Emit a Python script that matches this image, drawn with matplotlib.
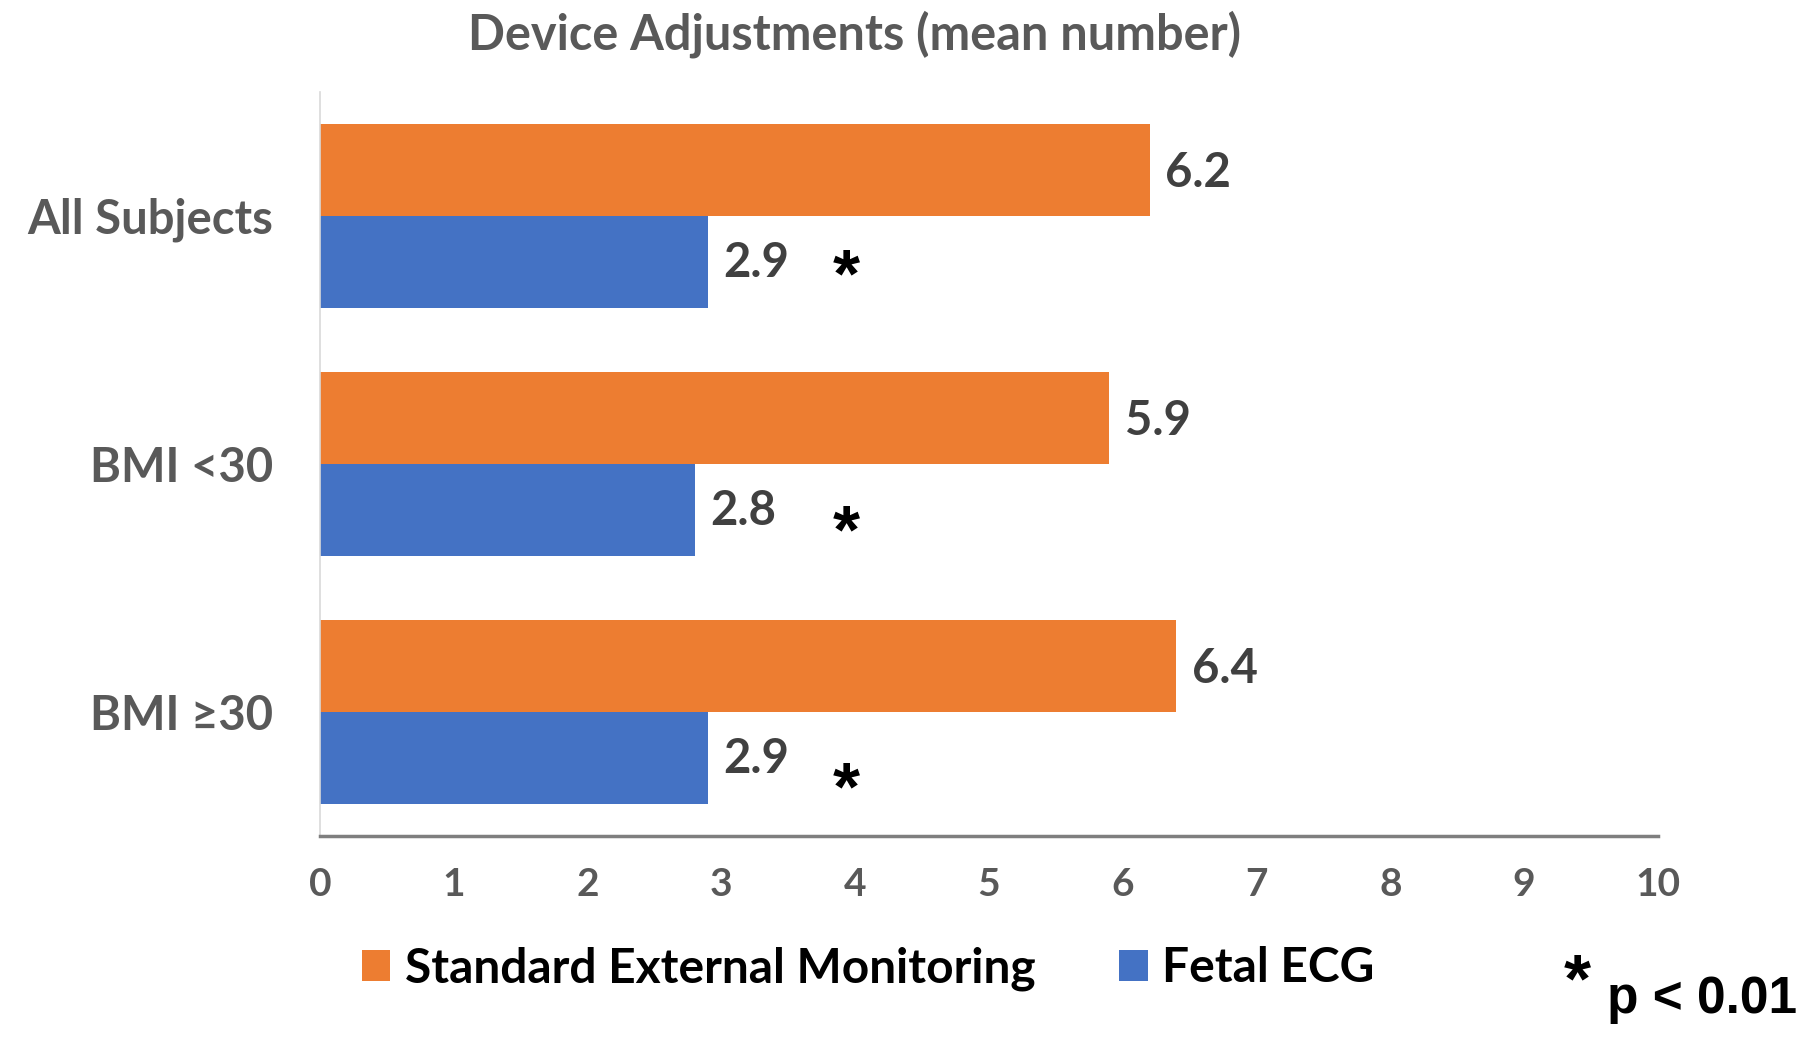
import matplotlib
matplotlib.use("Agg")
import matplotlib.pyplot as plt
from matplotlib.patches import Patch
import numpy as np

categories = ["All Subjects", "BMI <30", "BMI \u226530"]
standard_external = [6.2, 5.9, 6.4]
fetal_ecg = [2.9, 2.8, 2.9]
series_names = ["Standard External Monitoring", "Fetal ECG"]
x_ticks = [0, 1, 2, 3, 4, 5, 6, 7, 8, 9, 10]
title = "Device Adjustments (mean number)"
sig_marks = ["*", "*", "*"]

ORANGE = "#ED7D31"
BLUE = "#4472C4"
GRAY = "#595959"
DARK = "#404040"
FONT = ["Lato", "DejaVu Sans"]
ARIAL = ["Liberation Sans", "DejaVu Sans"]

plt.rcParams["font.family"] = FONT

fig = plt.figure(figsize=(18, 10.37), dpi=100)
ax = fig.add_axes([0.1778, 0.1938, 0.9211 - 0.1778, 0.9113 - 0.1938])

n = len(categories)
ypos = np.arange(n)[::-1].astype(float)  # top to bottom
h = 0.37
ax.barh(ypos + h / 2, standard_external, height=h, color=ORANGE)
ax.barh(ypos - h / 2, fetal_ecg, height=h, color=BLUE)

ax.set_xlim(x_ticks[0], x_ticks[-1])
ax.set_ylim(-0.5, n - 0.5)
ax.set_xticks(x_ticks)
ax.set_xticklabels([str(t) for t in x_ticks], fontsize=28, fontweight="bold", color=GRAY)
ax.set_yticks(ypos)
ax.set_yticklabels(categories, fontsize=34, fontweight="bold", color=GRAY)
ax.tick_params(axis="x", length=0, pad=22)
ax.tick_params(axis="y", length=0, pad=34)

for s in ["top", "right"]:
    ax.spines[s].set_visible(False)
ax.spines["bottom"].set_color("#7f7f7f")
ax.spines["bottom"].set_linewidth(2.5)
ax.spines["left"].set_color("#d9d9d9")
ax.spines["left"].set_linewidth(1.2)

for yv, v in zip(ypos, standard_external):
    ax.annotate(f"{v:.1f}", (v, yv + h / 2), xytext=(11, -2), textcoords="offset points",
                ha="left", va="center", fontsize=34, fontweight="bold", color=DARK)
for yv, v in zip(ypos, fetal_ecg):
    ax.annotate(f"{v:.1f}", (v, yv - h / 2), xytext=(11, -1), textcoords="offset points",
                ha="left", va="center", fontsize=34, fontweight="bold", color=DARK)

star_dy = [-12, -18, -24]
for yv, m, dy in zip(ypos, sig_marks, star_dy):
    ax.annotate(m, (3.93, yv - h / 2), xytext=(0, dy), textcoords="offset points",
                ha="center", va="center", fontsize=50, fontweight="bold", color="black",
                family=ARIAL)

fig.text(0.475, 0.967, title, ha="center", va="center", fontsize=35,
         fontweight="bold", color=GRAY)

handles = [Patch(facecolor=ORANGE), Patch(facecolor=BLUE)]
leg = fig.legend(handles, series_names, loc="center left", bbox_to_anchor=(0.177, 0.066),
                 ncol=2, frameon=False, handlelength=0.6, handleheight=0.6,
                 handletextpad=0.3, columnspacing=1.75,
                 prop={"size": 34.5, "weight": "bold", "family": FONT})
for t in leg.get_texts():
    t.set_color("black")

fig.text(0.8765, 0.052, "*", ha="center", va="center", fontsize=50, fontweight="bold",
         color="black", family=ARIAL)
fig.text(0.893, 0.023, "p < 0.01", ha="left", va="baseline", fontsize=37,
         fontweight="bold", color="black", family=ARIAL)

fig.savefig("out.png", dpi=100, facecolor="white")
